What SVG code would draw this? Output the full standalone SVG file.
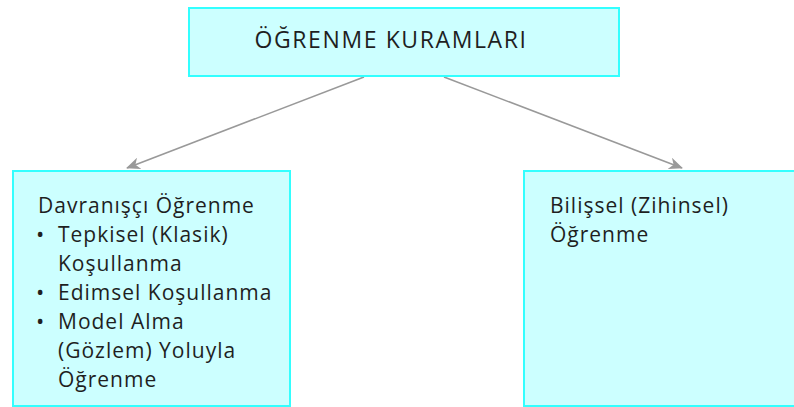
<svg xmlns="http://www.w3.org/2000/svg" width="794" height="407" viewBox="0 0 794 407">
<style>
.box{fill:#ccffff;stroke:#33ffff;stroke-width:2}
.t{font-family:"Open Sans",Lato,"Liberation Sans",sans-serif;font-size:21px;letter-spacing:1px;fill:#1f1f1f}
.b{font-family:"Open Sans","Liberation Sans",sans-serif;font-size:22px;fill:#1f1f1f}
.c{stroke:#999999;stroke-width:1.6;fill:none;marker-end:url(#ah)}
</style>
<defs>
<marker id="ah" viewBox="0 0 14 12" refX="13" refY="6" markerWidth="14" markerHeight="12" markerUnits="userSpaceOnUse" orient="auto">
<path d="M0,0 L14,6 L0,12 L4,6 z" fill="#999999"/>
</marker>
</defs>
<rect width="794" height="407" fill="#ffffff"/>
<g id="connectors">
<line class="c" x1="364" y1="77" x2="127" y2="168"/>
<line class="c" x1="444" y1="77" x2="682" y2="168"/>
</g>
<g id="root">
<rect class="box" x="189" y="8" width="430" height="68"/>
<text class="t" x="391" y="48" text-anchor="middle" style="font-size:23px;letter-spacing:1.6px">ÖĞRENME KURAMLARI</text>
</g>
<g id="davranisci">
<rect class="box" x="13" y="171" width="277" height="235"/>
<text class="t" x="38" y="213">Davranışçı Öğrenme</text>
<text class="b" x="36" y="242">•</text>
<text class="t" x="58" y="242">Tepkisel (Klasik)</text>
<text class="t" x="58" y="271">Koşullanma</text>
<text class="b" x="36" y="300">•</text>
<text class="t" x="58" y="300">Edimsel Koşullanma</text>
<text class="b" x="36" y="329">•</text>
<text class="t" x="58" y="329">Model Alma</text>
<text class="t" x="58" y="358">(Gözlem) Yoluyla</text>
<text class="t" x="58" y="387">Öğrenme</text>
</g>
<g id="bilissel">
<rect class="box" x="524" y="171" width="280" height="235"/>
<text class="t" x="550" y="213">Bilişsel (Zihinsel)</text>
<text class="t" x="550" y="242">Öğrenme</text>
</g>
</svg>
